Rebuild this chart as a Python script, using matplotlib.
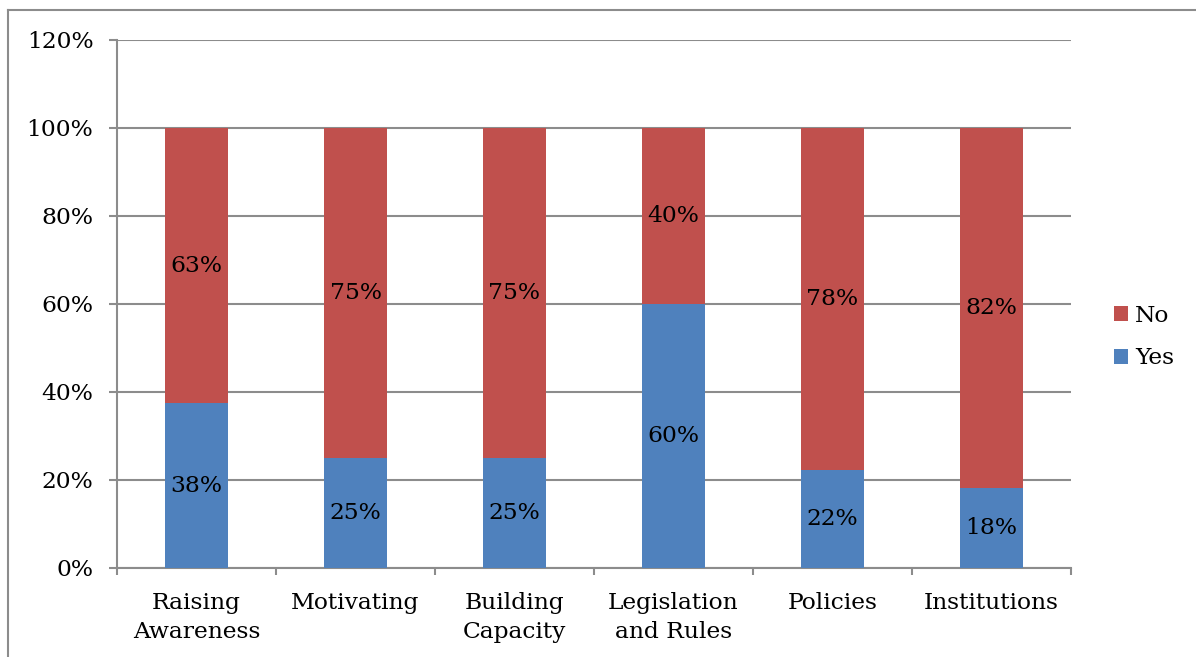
"""Stacked Yes/No shares per policy area."""

import matplotlib
matplotlib.use("Agg")
import matplotlib.pyplot as plt
from matplotlib.lines import Line2D
from matplotlib.patches import Patch
from matplotlib.ticker import FixedLocator, PercentFormatter

categories = ["Raising\nAwareness", "Motivating", "Building\nCapacity",
              "Legislation\nand Rules", "Policies", "Institutions"]
yes_pct = [37.5, 25.0, 25.0, 60.0, 22.2, 18.2]
no_pct = [62.5, 75.0, 75.0, 40.0, 77.8, 81.8]

BLUE = "#4f81bd"
RED = "#c0504d"
GRID = "#8c8c8c"
FONT = "DejaVu Serif"
FS = 16.8

plt.rcParams["font.family"] = FONT

fig = plt.figure(figsize=(11.96, 6.57), dpi=100)
ax = fig.add_axes([117 / 1196, 89 / 657, 954 / 1196, 528 / 657])

x = list(range(len(categories)))
ax.bar(x, yes_pct, width=0.4, color=BLUE, label="Yes", zorder=3)
ax.bar(x, no_pct, width=0.4, bottom=yes_pct, color=RED, label="No", zorder=3)

def pct_label(v):
    return f"{int(v + 0.5)}%"

for xi, y, n in zip(x, yes_pct, no_pct):
    ax.text(xi, y / 2, pct_label(y), ha="center", va="center", fontsize=FS, zorder=4)
    ax.text(xi, y + n / 2, pct_label(n), ha="center", va="center", fontsize=FS, zorder=4)

ax.set_xlim(-0.5, len(categories) - 0.5)
ax.set_ylim(0, 120)
ax.set_yticks(range(0, 121, 20))
ax.yaxis.set_major_formatter(PercentFormatter(decimals=0))
ax.grid(axis="y", color=GRID, linewidth=1.5, zorder=0)

ax.set_xticks(x)
ax.set_xticklabels(categories, fontsize=FS, linespacing=1.45)
ax.xaxis.set_minor_locator(FixedLocator([i - 0.5 for i in range(len(categories) + 1)]))
ax.tick_params(axis="x", which="major", length=0, pad=17)
ax.tick_params(axis="x", which="minor", length=5, width=1.5, color=GRID, direction="out")
ax.tick_params(axis="y", length=6, width=1.5, color=GRID, labelsize=FS, pad=11)

for side in ("top", "right"):
    ax.spines[side].set_visible(False)
for side in ("left", "bottom"):
    ax.spines[side].set_color(GRID)
    ax.spines[side].set_linewidth(1.5)

handles = [Patch(facecolor=RED, label="No"), Patch(facecolor=BLUE, label="Yes")]
fig.legend(handles=handles, loc="center left", bbox_to_anchor=(1093 / 1196, 1 - 337 / 657),
           frameon=False, fontsize=FS, handlelength=0.6, handleheight=0.6,
           handletextpad=0.3, labelspacing=0.9)

# outer chart border (only left and top edges visible)
bx, by = 8 / 1196, 1 - 10 / 657
fig.add_artist(Line2D([bx, bx], [0, by], color=GRID, linewidth=1.5))
fig.add_artist(Line2D([bx, 1], [by, by], color=GRID, linewidth=1.5))

fig.savefig("out.png", dpi=100, facecolor="white")
